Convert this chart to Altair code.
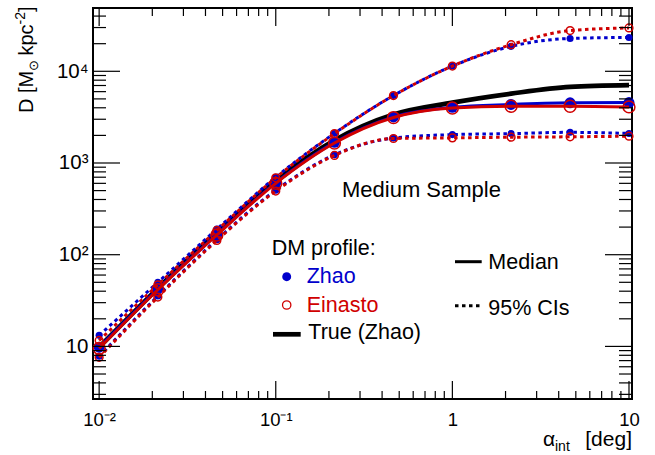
import altair as alt
import pandas as pd

# Integration angle grid (deg)
alpha = [0.01, 0.0215, 0.0464, 0.1, 0.215, 0.464, 1.0, 2.15, 4.64, 10.0]

# J/D-factor estimates, Zhao profile: median and 95% credible interval
zhao_median = [9.8, 42.5, 167, 610, 1680, 3180, 4050, 4350, 4530, 4560]
zhao_upper = [13.2, 50, 190, 700, 2110, 5440, 11400, 18700, 22800, 23400]
zhao_lower = [7.8, 35.5, 146, 505, 1230, 1870, 2040, 2090, 2160, 2100]

# Einasto profile: median and 95% credible interval
einasto_median = [9.5, 41.5, 164, 600, 1650, 3130, 3980, 4160, 4160, 4090]
einasto_upper = [11.6, 47, 184, 690, 2090, 5440, 11400, 19500, 27800, 29700]
einasto_lower = [7.6, 34.5, 143, 495, 1210, 1850, 1880, 1910, 1930, 1960]

# True value for the Zhao input halo
true_zhao = [9.8, 43, 172, 640, 1770, 3380, 4550, 5700, 6760, 7050]

# Axis tick positions
x_major = [0.01, 0.1, 1, 10]
x_minor = [k * 10.0 ** e for e in (-2, -1, 0) for k in range(2, 10)]
y_major = [10, 100, 1000, 10000]
y_minor = ([k for k in range(3, 10)] + [k * 10 for k in range(2, 10)]
           + [k * 100 for k in range(2, 10)] + [k * 1000 for k in range(2, 10)]
           + [20000, 30000, 40000])

W, H = 539, 391
FONT = "Liberation Sans"
BLUE = "#0000CC"
RED = "#D00000"

xscale = alt.Scale(type="log", domain=[0.00923, 10.4], nice=False)
yscale = alt.Scale(type="log", domain=[2.67, 49000], nice=False)

rows = []
for model, stats in (
    ("Zhao", {"median": zhao_median, "upper": zhao_upper, "lower": zhao_lower}),
    ("Einasto", {"median": einasto_median, "upper": einasto_upper, "lower": einasto_lower}),
):
    for stat, vals in stats.items():
        for a, v in zip(alpha, vals):
            rows.append({"alpha": a, "D": v, "model": model, "stat": stat})
df = pd.DataFrame(rows)
true_df = pd.DataFrame({"alpha": alpha, "D": true_zhao})

xaxis = alt.Axis(
    values=x_major,
    labelExpr="datum.value < 0.05 ? '10⁻²' : datum.value < 0.5 ? '10⁻¹' : datum.value < 5 ? '1' : '10'",
    ticks=False, domain=False, grid=False, title=None,
    labelFont=FONT, labelFontSize=18.5, labelColor="black", labelPadding=11,
)
yaxis = alt.Axis(
    values=y_major,
    labelExpr="datum.value < 50 ? '10' : datum.value < 500 ? '10²' : datum.value < 5000 ? '10³' : '10⁴'",
    ticks=False, domain=False, grid=False, title=None,
    labelFont=FONT, labelFontSize=20.5, labelColor="black", labelPadding=5,
)


def X(field="alpha"):
    return alt.X(f"{field}:Q", scale=xscale, axis=xaxis)


def Y(field="D"):
    return alt.Y(f"{field}:Q", scale=yscale, axis=yaxis)


layers = []

# True curve (drawn first, underneath)
layers.append(
    alt.Chart(true_df).mark_line(color="black", strokeWidth=4.7, interpolate="monotone")
    .encode(x=X(), y=Y())
)


def model_layers(model, color, filled):
    out = []
    for stat in ("upper", "lower", "median"):
        d = df[(df.model == model) & (df.stat == stat)]
        line_kw = dict(color=color, strokeWidth=3, interpolate="monotone")
        if stat != "median":
            line_kw["strokeDash"] = [3.5, 3.5]
        out.append(alt.Chart(d).mark_line(**line_kw).encode(x=X(), y=Y()))
    for stat in ("upper", "lower", "median"):
        d = df[(df.model == model) & (df.stat == stat)]
        if filled:
            size = 120 if stat == "median" else 50
            mk = alt.Chart(d).mark_point(shape="circle", filled=True, color=color,
                                         size=size, opacity=1)
        else:
            size = 140 if stat == "median" else 60
            mk = alt.Chart(d).mark_point(shape="circle", filled=False, color=color,
                                         size=size, strokeWidth=1.5, opacity=1)
        out.append(mk.encode(x=X(), y=Y()))
    return out


layers += model_layers("Zhao", BLUE, True)
layers += model_layers("Einasto", RED, False)

# Inward-pointing frame ticks on all four sides
xm = pd.DataFrame({"v": x_major})
xn = pd.DataFrame({"v": x_minor})
ym = pd.DataFrame({"v": y_major})
yn = pd.DataFrame({"v": y_minor})
tick = dict(color="black", strokeWidth=1.2)
for data, ln in ((xm, 18), (xn, 8)):
    layers.append(alt.Chart(data).mark_rule(**tick).encode(x=X("v"), y=alt.value(H), y2=alt.value(H - ln)))
    layers.append(alt.Chart(data).mark_rule(**tick).encode(x=X("v"), y=alt.value(0), y2=alt.value(ln)))
for data, ln in ((ym, 27), (yn, 13)):
    layers.append(alt.Chart(data).mark_rule(**tick).encode(y=Y("v"), x=alt.value(0), x2=alt.value(ln)))
    layers.append(alt.Chart(data).mark_rule(**tick).encode(y=Y("v"), x=alt.value(W), x2=alt.value(W - ln)))

one = pd.DataFrame({"k": [0]})


def label(text, x, y, size=21.5, color="black", align="left", angle=None, baseline="alphabetic"):
    kw = dict(text=text, font=FONT, fontSize=size, color=color, align=align, baseline=baseline)
    if angle is not None:
        kw["angle"] = angle
    return alt.Chart(one).mark_text(**kw).encode(x=alt.value(x), y=alt.value(y))


# Axis titles
layers += [
    label("D [M", -60, 105, size=20, angle=270),
    label("⊙", -55, 63, size=13, angle=270),
    label("kpc", -60, 47.5, size=20, angle=270),
    label("-2", -68, 16.4, size=14, angle=270),
    label("]", -60, 4.0, size=20, angle=270),
    label("α", 450, 438, size=21),
    label("int", 462, 443, size=14),
    label("[deg]", 539, 438, size=21, align="right"),
]

# Annotation and legend
layers += [
    label("Medium Sample", 249, 188.7, size=22),
    label("DM profile:", 178.7, 247),
    label("Zhao", 213.7, 275.3, color=BLUE),
    label("Einasto", 213.7, 303.7, color=RED),
    label("True (Zhao)", 215.3, 331),
    label("Median", 395.3, 261.3),
    label("95% CIs", 395.3, 307),
    alt.Chart(one).mark_point(shape="circle", filled=True, color=BLUE, size=80, opacity=1)
    .encode(x=alt.value(193.7), y=alt.value(268.7)),
    alt.Chart(one).mark_point(shape="circle", filled=False, color=RED, size=70,
                              strokeWidth=1.3, opacity=1)
    .encode(x=alt.value(193.7), y=alt.value(297)),
    alt.Chart(one).mark_rule(color="black", strokeWidth=4.7)
    .encode(x=alt.value(180), x2=alt.value(207.7), y=alt.value(326.3)),
    alt.Chart(one).mark_rule(color="black", strokeWidth=3)
    .encode(x=alt.value(362), x2=alt.value(388.7), y=alt.value(253.7)),
    alt.Chart(one).mark_rule(color="black", strokeWidth=3, strokeDash=[3.5, 3.5])
    .encode(x=alt.value(362), x2=alt.value(388.7), y=alt.value(297.7)),
]

chart = (
    alt.layer(*layers)
    .properties(width=W, height=H, background="white",
                padding={"left": 93, "top": 8, "right": 23, "bottom": 56},
                autosize=alt.AutoSizeParams(type="none"))
    .configure_view(stroke="black", strokeWidth=2)
)

chart.save("out.html", embed_options={"renderer": "svg", "actions": False})
